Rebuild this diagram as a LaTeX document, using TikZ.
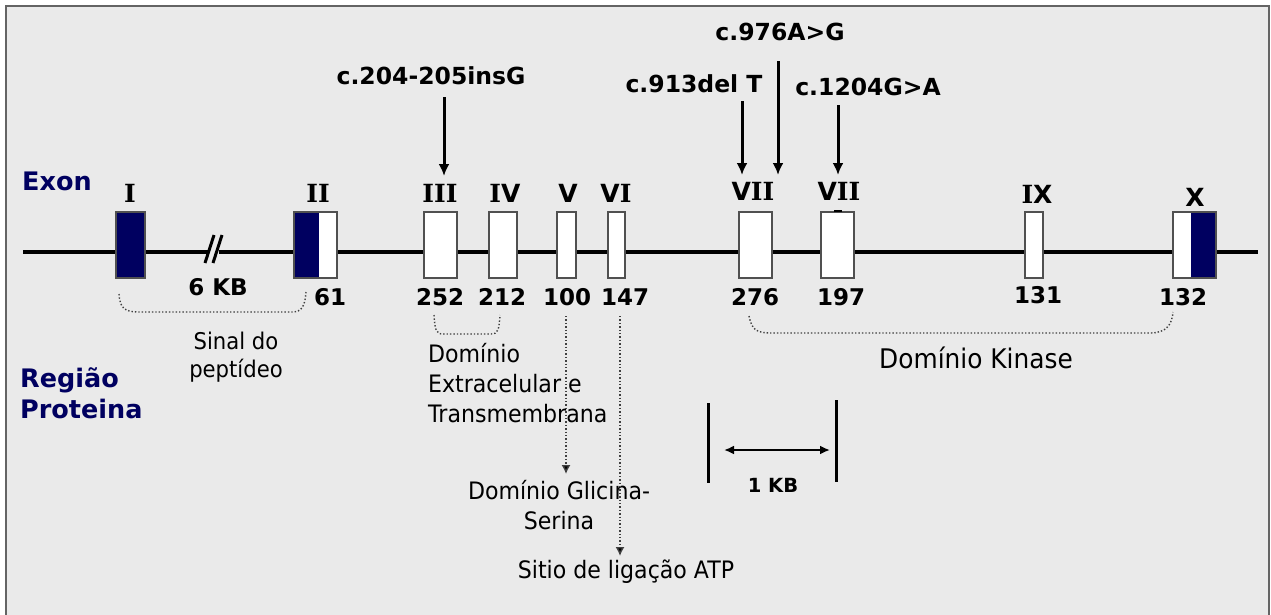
\documentclass[tikz,border=0pt]{standalone}
\usepackage{fontspec}
\usetikzlibrary{arrows.meta}
\newfontfamily\vfont{DejaVu Sans}
\newfontfamily\sfontb{DejaVu Serif}
\newfontfamily\tfont[FakeStretch=0.92]{DejaVu Sans}
\newcommand\ri{{\sfontb\bfseries I}}
\definecolor{navy}{RGB}{0,0,96}
\definecolor{bgc}{RGB}{234,234,234}
\definecolor{frame}{RGB}{100,100,100}
\definecolor{boxedge}{RGB}{80,80,80}
\tikzset{
  exon/.style={draw=boxedge, line width=1.2pt, fill=white, minimum height=66pt, inner sep=0pt},
  exondark/.style={exon, fill=navy},
  roman/.style={font=\vfont\bfseries\fontsize{25}{27}\selectfont, inner sep=0pt},
  num/.style={font=\vfont\bfseries\fontsize{23}{25}\selectfont, inner sep=0pt},
  mutlbl/.style={font=\vfont\bfseries\fontsize{23.5}{26}\selectfont, inner sep=0pt},
  mutarrow/.style={line width=3pt, -{Latex[length=12pt,width=11pt]}},
  region/.style={font=\tfont\fontsize{24}{30}\selectfont, inner sep=0pt},
  dotbr/.style={dotted, line width=1.4pt, draw=black!75},
  dotarrow/.style={dotted, line width=1.4pt, draw=black!75, -{Latex[length=9pt,width=9pt,fill=black]}},
  side/.style={font=\vfont\bfseries\fontsize{25.5}{31}\selectfont, text=navy, inner sep=0pt, align=left}
}
\begin{document}
\begin{tikzpicture}[x=1pt,y=-1pt]
\useasboundingbox (0,0) rectangle (1271,614);
\clip (0,0) rectangle (1271,614);
\fill[white] (0,0) rectangle (1271,614);
\draw[fill=bgc, draw=frame, line width=2pt] (6,6) rectangle (1269,650);

% main line with break
\coordinate (L0) at (23,252);
\coordinate (B0) at (208,252);
\coordinate (B1) at (219,252);
\coordinate (L1) at (1258,252);
\draw[line width=3.2pt] (L0) -- (B0);
\draw[line width=3.2pt] (B1) -- (L1);
\coordinate (s1a) at (205,263); \coordinate (s1b) at (214,235);
\coordinate (s2a) at (213,263); \coordinate (s2b) at (222,235);
\draw[line width=3pt] (s1a) -- (s1b);
\draw[line width=3pt] (s2a) -- (s2b);
\node[font=\vfont\bfseries\fontsize{23}{26}\selectfont, inner sep=0pt] (kb6) at (218,287) {6 KB};

% exons
\node[exondark, minimum width=29pt] (e1) at (130.5,245) {};
\node[exon, minimum width=43pt, path picture={\fill[navy] (path picture bounding box.north west) rectangle ([xshift=25pt]path picture bounding box.south west);}] (e2) at (315.5,245) {};
\draw[draw=boxedge, line width=1.2pt] (e2.north west) rectangle (e2.south east);
\node[exon, minimum width=33pt] (e3) at (440.5,245) {};
\node[exon, minimum width=28pt] (e4) at (503,245) {};
\node[exon, minimum width=19pt] (e5) at (566.5,245) {};
\node[exon, minimum width=17pt] (e6) at (616.5,245) {};
\node[exon, minimum width=33pt] (e7) at (755.5,245) {};
\node[exon, minimum width=33pt] (e8) at (837.5,245) {};
\node[exon, minimum width=18pt] (e9) at (1034,245) {};
\node[exon, minimum width=43pt, path picture={\fill[navy] ([xshift=18pt]path picture bounding box.north west) rectangle (path picture bounding box.south east);}] (e10) at (1194.5,245) {};
\draw[draw=boxedge, line width=1.2pt] (e10.north west) rectangle (e10.south east);
\coordinate (d8a) at (834,211); \coordinate (d8b) at (842,211);
\draw[line width=1.5pt] (d8a) -- (d8b);

% roman labels
\node[roman] (r1) at (130,193) {\ri};
\node[roman] (r2) at (318,193) {\ri\ri};
\node[roman] (r3) at (440,193) {\ri\ri\ri};
\node[roman] (r4) at (505,193) {\ri V};
\node[roman] (r5) at (568,193) {V};
\node[roman] (r6) at (616,193) {V\ri};
\node[roman] (r7) at (753,191) {V\ri\ri};
\node[roman] (r8) at (839,191) {V\ri\ri};
\node[roman] (r9) at (1037,194) {\ri X};
\node[roman] (r10) at (1195,197) {X};

% numbers
\node[num] (n2) at (330,297) {61};
\node[num] (n3) at (440,297) {252};
\node[num] (n4) at (502,297) {212};
\node[num] (n5) at (567,297) {100};
\node[num] (n6) at (625,297) {147};
\node[num] (n7) at (755,297) {276};
\node[num] (n8) at (841,297) {197};
\node[num] (n9) at (1038,295) {131};
\node[num] (n10) at (1183,297) {132};

% mutations
\node[mutlbl] (m1) at (431,76) {c.204-205insG};
\node[mutlbl] (m2) at (780,32) {c.976A>G};
\node[mutlbl] (m3) at (694,84) {c.913del T};
\node[mutlbl] (m4) at (868,87) {c.1204G>A};
\coordinate (m1s) at (444,97);  \coordinate (m1e) at (444,176);
\coordinate (m2s) at (778,61);  \coordinate (m2e) at (778,175);
\coordinate (m3s) at (742,101); \coordinate (m3e) at (742,175);
\coordinate (m4s) at (838,105); \coordinate (m4e) at (838,175);
\draw[mutarrow] (m1s) -- (m1e);
\draw[mutarrow] (m2s) -- (m2e);
\draw[mutarrow] (m3s) -- (m3e);
\draw[mutarrow] (m4s) -- (m4e);

% side labels
\node[side, anchor=west] (exon) at (22,181) {Exon};
\node[side, anchor=west] (regiao) at (20,393) {Região\\Proteina};

% brackets
\draw[dotbr] (119,294) .. controls (120,309) and (125,312) .. (140,312) -- (292,312) .. controls (302,312) and (305,306) .. (306,292);
\node[region, font=\tfont\fontsize{23}{28}\selectfont, align=center] (sinal) at (236,357) {Sinal do\\peptídeo};

\draw[dotbr] (434,315) .. controls (435,330) and (436,334) .. (443,334) -- (491,334) .. controls (498,334) and (499,330) .. (500,315);
\node[region, align=left, anchor=west] (extra) at (428,383) {Domínio\\Extracelular e\\Transmembrana};

\draw[dotbr] (749,316) .. controls (752,330) and (756,333) .. (772,333) -- (1150,333) .. controls (1166,333) and (1172,325) .. (1173,312);
\node[region, font=\tfont\fontsize{27}{30}\selectfont] (kinase) at (976,358) {Domínio Kinase};

\coordinate (v5s) at (566,316); \coordinate (v5e) at (566,474);
\draw[dotarrow] (v5s) -- (v5e);
\node[region, align=center] (glic) at (559,505) {Domínio Glicina-\\Serina};

\coordinate (v6s) at (620,316); \coordinate (v6e) at (620,556);
\draw[dotarrow] (v6s) -- (v6e);
\node[region] (atp) at (626,572) {Sitio de ligação ATP};

% scale bar
\coordinate (k1a) at (708,403); \coordinate (k1b) at (708,483);
\coordinate (k2a) at (836,400); \coordinate (k2b) at (836,482);
\draw[line width=3pt] (k1a) -- (k1b);
\draw[line width=3pt] (k2a) -- (k2b);
\coordinate (ka) at (724,450); \coordinate (kb) at (830,450);
\draw[line width=2.4pt, {Latex[length=10pt,width=9pt]}-{Latex[length=10pt,width=9pt]}] (ka) -- (kb);
\node[font=\vfont\bfseries\fontsize{19.5}{22}\selectfont, inner sep=0pt] (kb1) at (773,485) {1 KB};
\end{tikzpicture}
\end{document}
